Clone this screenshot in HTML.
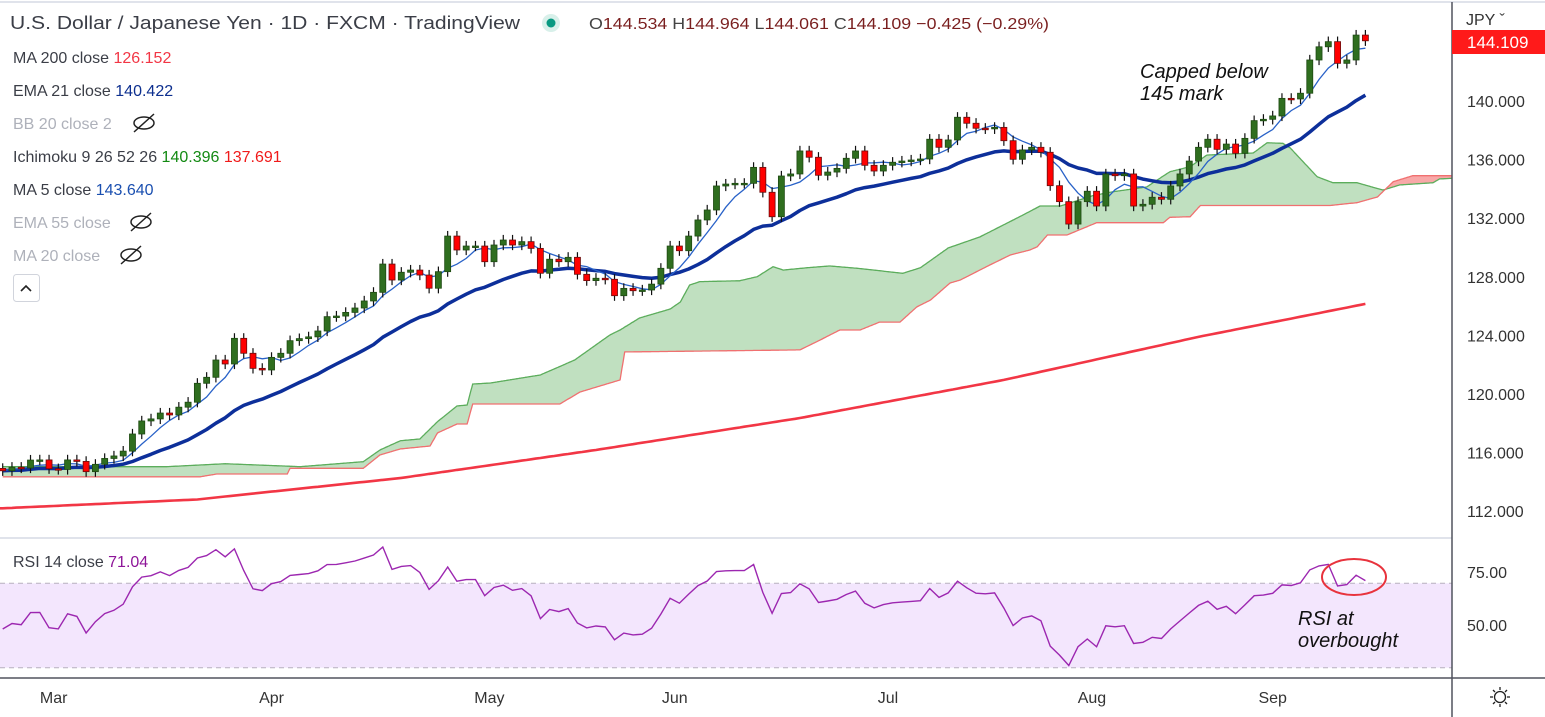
<!DOCTYPE html>
<html><head><meta charset="utf-8"><style>
html,body{margin:0;padding:0;background:#fff;}
svg{display:block;font-family:"Liberation Sans",sans-serif;}
</style></head><body>
<svg id="chart" width="1545" height="717" viewBox="0 0 1545 717" xmlns="http://www.w3.org/2000/svg">
<defs><clipPath id="plotClip"><rect x="0" y="0" width="1452" height="538"/></clipPath>
<clipPath id="rsiClip"><rect x="0" y="538" width="1452" height="140"/></clipPath></defs>
<rect x="0" y="0" width="1545" height="717" fill="#fff"/>
<line x1="0" y1="2" x2="1545" y2="2" stroke="#e0e3eb" stroke-width="2"/>
<g id="rsiBand"></g>
<g id="cloud" clip-path="url(#plotClip)"></g>
<g id="lines" clip-path="url(#plotClip)"></g>
<g id="candles" clip-path="url(#plotClip)"></g>
<g id="rsi" clip-path="url(#rsiClip)"></g>
<line x1="0" y1="538" x2="1452" y2="538" stroke="#e0e3eb" stroke-width="2"/>
<line x1="0" y1="678" x2="1545" y2="678" stroke="#50535e" stroke-width="1.5"/>
<line x1="1452" y1="2" x2="1452" y2="717" stroke="#50535e" stroke-width="1.5"/>
<g id="yaxis" font-size="16" fill="#333"></g>
<g id="xaxis" font-size="16" fill="#333"></g>
<text x="1466" y="25" font-size="16" fill="#333">JPY ˇ</text>
<rect x="1452" y="30" width="93" height="24" fill="#ff1a1a"/>
<text x="1467" y="48" font-size="17" fill="#fff">144.109</text>
<text x="1467" y="578" font-size="16" fill="#333">75.00</text>
<text x="1467" y="631" font-size="16" fill="#333">50.00</text>
<g stroke="#222" fill="none" stroke-width="1.3">
<circle cx="1500" cy="697" r="5.5"/><line x1="1500" y1="687" x2="1500" y2="690"/><line x1="1500" y1="704" x2="1500" y2="707"/><line x1="1490" y1="697" x2="1493" y2="697"/><line x1="1507" y1="697" x2="1510" y2="697"/><line x1="1493" y1="690" x2="1495" y2="692"/><line x1="1505" y1="702" x2="1507" y2="704"/><line x1="1507" y1="690" x2="1505" y2="692"/><line x1="1493" y1="704" x2="1495" y2="702"/></g>
<text x="10" y="29" font-size="18" fill="#3b3e47" textLength="510" lengthAdjust="spacingAndGlyphs">U.S. Dollar / Japanese Yen · 1D · FXCM · TradingView</text>
<circle cx="551" cy="23" r="9" fill="#d8f0ea"/><circle cx="551" cy="23" r="4.5" fill="#089981"/>
<text x="589" y="29" font-size="16" fill="#7a1f1f" textLength="460" lengthAdjust="spacingAndGlyphs"><tspan fill="#444">O</tspan>144.534 <tspan fill="#444">H</tspan>144.964 <tspan fill="#444">L</tspan>144.061 <tspan fill="#444">C</tspan>144.109 −0.425 (−0.29%)</text>
<g font-size="16">
<text x="13" y="63" fill="#3b3e47">MA 200 close <tspan fill="#f23645">126.152</tspan></text>
<text x="13" y="96" fill="#3b3e47">EMA 21 close <tspan fill="#0d2f8f">140.422</tspan></text>
<text x="13" y="129" fill="#aeb1ba">BB 20 close 2</text>
<text x="13" y="162" fill="#3b3e47">Ichimoku 9 26 52 26 <tspan fill="#138a13">140.396</tspan> <tspan fill="#f01a1a">137.691</tspan></text>
<text x="13" y="195" fill="#3b3e47">MA 5 close <tspan fill="#1a4fb0">143.640</tspan></text>
<text x="13" y="228" fill="#aeb1ba">EMA 55 close</text>
<text x="13" y="261" fill="#aeb1ba">MA 20 close</text>
<g stroke="#222" fill="none" stroke-width="1.5">
<g><ellipse cx="144" cy="123" rx="10" ry="6"/><line x1="134" y1="132" x2="154" y2="114"/></g>
<g><ellipse cx="141" cy="222" rx="10" ry="6"/><line x1="131" y1="231" x2="151" y2="213"/></g>
<g><ellipse cx="131" cy="255" rx="10" ry="6"/><line x1="121" y1="264" x2="141" y2="246"/></g>
</g>
<rect x="13.5" y="274.5" width="26" height="27" rx="3" fill="#fff" stroke="#d1d4dc"/>
<polyline points="21,291 26,286 31,291" fill="none" stroke="#222" stroke-width="1.6"/>
<text x="13" y="567" fill="#3b3e47">RSI 14 close <tspan fill="#8e1599">71.04</tspan></text>
</g>
<g font-size="20" font-style="italic" fill="#111">
<text x="1140" y="78">Capped below</text><text x="1140" y="100">145 mark</text></g>
<g font-size="20" font-style="italic" fill="#111">
<text x="1298" y="625">RSI at</text><text x="1298" y="647">overbought</text></g>
<ellipse cx="1354" cy="577" rx="32" ry="18" fill="none" stroke="#e8333d" stroke-width="2"/>
</svg>
<script>
const closes=[114.76,115.0,114.95,115.49,115.5,114.9,114.85,115.5,115.4,114.7,
115.2,115.6,115.77,116.1,117.27,118.16,118.3,118.7,118.57,119.1,
119.44,120.73,121.14,122.32,122.05,123.8,122.78,121.75,121.64,122.5,
122.78,123.64,123.78,123.9,124.3,125.28,125.32,125.57,125.87,126.35,
126.94,128.87,127.78,128.31,128.46,128.12,127.22,128.35,130.78,129.83,
130.1,130.1,129.03,130.17,130.51,130.17,130.4,129.94,128.24,129.2,
129.03,129.33,128.17,127.74,127.9,127.83,126.71,127.21,127.05,127.1,
127.5,128.58,130.1,129.78,130.78,131.88,132.56,134.2,134.33,134.38,
134.38,135.47,133.77,132.1,134.88,135.02,136.59,136.16,134.93,135.15,
135.4,136.09,136.59,135.61,135.22,135.61,135.82,135.9,135.97,136.04,
137.39,136.84,137.34,138.89,138.48,138.14,138.1,138.2,137.29,136.02,
136.66,136.84,136.5,134.22,133.13,131.6,133.13,133.84,132.83,135.02,
134.9,135.02,132.83,132.95,133.43,133.29,134.2,135.02,135.9,136.84,
137.39,136.7,137.06,136.43,137.45,138.66,138.75,138.98,140.18,140.14,
140.53,142.8,143.7,144.05,142.57,142.8,144.5,144.11];
const firstOpen=114.92;
const ma200Idx=[0,21,43,64,86,108,129,147];
const ma200Val=[112.2,112.8,114.27,116.18,118.36,120.96,123.9,126.15];
const spanAIdx=[0,17.7,24,32.1,38.9,40.7,42.9,45,46.9,49,50.1,50.7,52.6,58,61.7,65.5,66.6,68.7,72,73.1,74.1,75.2,79.5,81.4,83.1,84.2,86.8,89.2,92.2,97.1,99,102,105.4,109.7,111.9,114.1,117.6,119.8,123.4,125.9,128.1,129.9,134.9,136.4,138.1,138.9,141.8,143.5,146.1,148.9,150.7,154.3,155,156.3,158];
const spanAVal=[115.04,115.04,115.24,115.04,115.38,116.18,116.81,116.93,118.11,119.18,119.25,120.68,120.75,121.3,122.32,124.03,124.37,125.19,125.8,126.28,127.44,127.67,127.73,128.01,128.69,128.46,128.62,128.74,128.58,128.24,128.62,129.97,130.72,132.1,132.83,132.83,133.54,133.81,134.13,135.17,135.52,136.31,136.45,137.15,137.11,136.79,134.83,134.42,134.42,133.92,134.27,134.42,134.68,134.72,134.72];
const spanBIdx=[0,21.3,23.1,30.7,31,38.9,40.7,42.9,46.1,46.9,49,50.1,50.7,60.1,62.3,66.6,67.1,86,88.2,90.3,92.5,94.6,96.8,98.6,100.1,102.2,103.3,106.5,108.7,110.8,111.6,112.7,114.8,118,125.2,125.9,128.1,129.2,143.2,146.1,148.3,150,152.1,158];
const spanBVal=[114.35,114.35,114.54,114.54,114.93,114.93,115.84,116.25,116.45,117.34,117.95,117.95,119.32,119.32,120.14,120.96,122.87,123.01,123.69,124.37,124.37,124.91,124.91,125.94,126.42,127.58,127.78,128.81,129.49,129.83,130.05,130.85,130.85,131.69,131.69,132.06,132.1,132.87,132.87,133.06,133.45,134.49,134.9,134.9];
const priceTicks=[140,136,132,128,124,120,116,112];
const monthLabels=["Mar","Apr","May","Jun","Jul","Aug","Sep"];
const monthIdx=[5.5,29,52.5,72.5,95.5,117.5,137];

const NS="http://www.w3.org/2000/svg";
const xOf=i=>2.7+i*9.27;
const yP=p=>101+(140-p)*14.65;
const yR=r=>583.3+(70-r)*2.11;
function mk(tag,attrs,parent){const e=document.createElementNS(NS,tag);for(const k in attrs)e.setAttribute(k,attrs[k]);parent.appendChild(e);return e;}
function interp(xs,ys,x){if(x<=xs[0])return ys[0];for(let k=1;k<xs.length;k++){if(x<=xs[k]){const t=(x-xs[k-1])/(xs[k]-xs[k-1]);return ys[k-1]+t*(ys[k]-ys[k-1]);}}return ys[ys.length-1];}

const band=document.getElementById('rsiBand');
const bandRect=mk('rect',{x:0,y:yR(70),width:1452,height:yR(30)-yR(70),fill:'#f3e6fd'},band);


[70,30].forEach(v=>{const l=mk('line',{x1:0,x2:1452,y1:yR(v),y2:yR(v),stroke:'#b8b0be','stroke-dasharray':'5 4','stroke-width':1},band);

});

const cloud=document.getElementById('cloud');
let gTop=[],gBot=[],rTop=[],rBot=[],aLine=[],bLine=[];
for(let s=0;s<=158;s+=0.1){const a=interp(spanAIdx,spanAVal,s),b=interp(spanBIdx,spanBVal,s),x=xOf(s).toFixed(1),m=Math.min(a,b);
gTop.push(x+','+yP(a).toFixed(1));gBot.unshift(x+','+yP(m).toFixed(1));rTop.push(x+','+yP(b).toFixed(1));rBot.unshift(x+','+yP(m).toFixed(1));
aLine.push(x+','+yP(a).toFixed(1));bLine.push(x+','+yP(b).toFixed(1));}
const gp=mk('polygon',{points:gTop.concat(gBot).join(' '),fill:'#c0e0c0'},cloud);


const rp=mk('polygon',{points:rTop.concat(rBot).join(' '),fill:'#f8a8a8'},cloud);


const al=mk('polyline',{points:aLine.join(' '),fill:'none',stroke:'#5cad5c','stroke-width':1.3},cloud);


const bl=mk('polyline',{points:bLine.join(' '),fill:'none',stroke:'#f07070','stroke-width':1.3},cloud);



const lines=document.getElementById('lines');
let p200=['0,'+yP(ma200Val[0]).toFixed(1)];for(let i=0;i<=147;i+=0.5)p200.push(xOf(i).toFixed(1)+','+yP(interp(ma200Idx,ma200Val,i)).toFixed(1));
const m200=mk('polyline',{points:p200.join(' '),fill:'none',stroke:'#f23645','stroke-width':2.6},lines);


let ema=closes[0],pe=[],pm=[];
closes.forEach((c,i)=>{ema=i===0?c:ema+(c-ema)*2/22;pe.push(xOf(i).toFixed(1)+','+yP(ema).toFixed(1));
const st=Math.max(0,i-4);let s=0;for(let k=st;k<=i;k++)s+=closes[k];pm.push(xOf(i).toFixed(1)+','+yP(s/(i-st+1)).toFixed(1));});
const e21=mk('polyline',{points:pe.join(' '),fill:'none',stroke:'#0d2f9a','stroke-width':3.5,'stroke-linejoin':'round'},lines);


const m5=mk('polyline',{points:pm.join(' '),fill:'none',stroke:'#2962c8','stroke-width':1.3},lines);



const cg=document.getElementById('candles');
closes.forEach((c,i)=>{const o=i===0?firstOpen:closes[i-1];const up=c>=o;const x=xOf(i);
const g=mk('g',{},cg);


const hi=Math.max(o,c)+0.35,lo=Math.min(o,c)-0.35;
mk('line',{x1:x,x2:x,y1:yP(hi),y2:yP(lo),stroke:'#111','stroke-width':1.2},g);
const top=yP(Math.max(o,c)),h=Math.max(1.5,yP(Math.min(o,c))-top);
mk('rect',{x:x-3,y:top,width:6,height:h,fill:up?'#2f6e1f':'#ff0000',stroke:up?'#1e4a12':'#6a0d0d','stroke-width':0.8},g);});

const rg=document.getElementById('rsi');
let ag=0.18,alv=0.18,rp2=[];
closes.forEach((c,i)=>{const prev=i===0?firstOpen:closes[i-1];const d=c-prev;ag=(ag*13+Math.max(d,0))/14;alv=(alv*13+Math.max(-d,0))/14;
const r=100-100/(1+ag/alv);rp2.push(xOf(i).toFixed(1)+','+yR(r).toFixed(1));});
const rl=mk('polyline',{points:rp2.join(' '),fill:'none',stroke:'#9c27b0','stroke-width':1.4},rg);



const ya=document.getElementById('yaxis');
priceTicks.forEach(v=>{const t=mk('text',{x:1467,y:yP(v)+6},ya);t.textContent=v.toFixed(3);

});
const xa=document.getElementById('xaxis');
monthLabels.forEach((m,k)=>{const t=mk('text',{x:xOf(monthIdx[k]),y:703,'text-anchor':'middle'},xa);t.textContent=m;

});
</script>
</body></html>
